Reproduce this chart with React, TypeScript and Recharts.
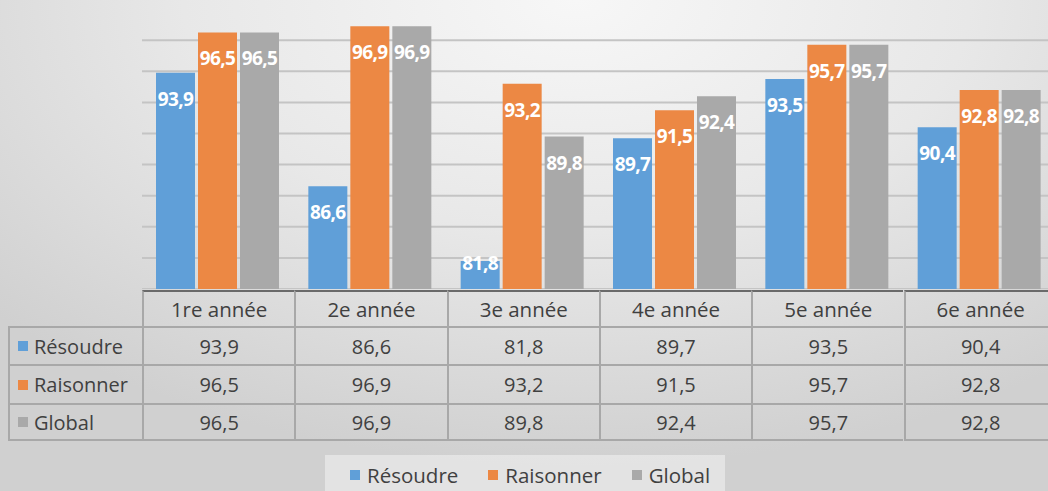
import { Bar, BarChart, CartesianGrid, LabelList, XAxis, YAxis } from "recharts";

const categories = ["1re année", "2e année", "3e année", "4e année", "5e année", "6e année"];
const resoudre = [93.9, 86.6, 81.8, 89.7, 93.5, 90.4];
const raisonner = [96.5, 96.9, 93.2, 91.5, 95.7, 92.8];
const global = [96.5, 96.9, 89.8, 92.4, 95.7, 92.8];
const yTicks = [80, 82, 84, 86, 88, 90, 92, 94, 96, 98, 100];

const series = [
  { key: "resoudre", name: "Résoudre", color: "#609fd8", values: resoudre },
  { key: "raisonner", name: "Raisonner", color: "#ec8844", values: raisonner },
  { key: "global", name: "Global", color: "#a9a9a9", values: global },
];

const data = categories.map((c, i) => ({
  name: c,
  resoudre: resoudre[i],
  raisonner: raisonner[i],
  global: global[i],
}));

const FONT = "'Open Sans', sans-serif";
const PLOT_LEFT = 142;
const COL_W = 152.3;
const CHART_H = 311;
const TEXT = "#404040";
const BORDER = "#a8a8a8";

const fmt = (v: number) => v.toFixed(1).replace(".", ",");

function BarLabel(props: any) {
  const { x, y, width, value } = props;
  // keep the label above the axis for short bars
  const cy = Math.min(y + 26, CHART_H - 26);
  return (
    <text
      x={x + width / 2}
      y={cy}
      textAnchor="middle"
      dominantBaseline="central"
      fill="#ffffff"
      fontFamily={FONT}
      fontWeight={700}
      fontSize={19}
      letterSpacing={-0.6}
    >
      {fmt(value)}
    </text>
  );
}

function DataTable() {
  const rowTops = [326, 364, 403];
  const rowH = [38, 39, 38];
  const cells: any[] = [];
  // header row
  categories.forEach((c, i) => {
    cells.push(
      <div
        key={"h" + i}
        style={{
          position: "absolute",
          left: PLOT_LEFT + i * COL_W,
          top: 290,
          width: COL_W,
          height: 36,
          borderLeft: `2px solid ${BORDER}`,
          borderTop: "2px solid #6a6a6a",
          boxSizing: "border-box",
          display: "flex",
          alignItems: "center",
          justifyContent: "center",
          fontSize: 20.5,
          color: TEXT,
        }}
      >
        {c}
      </div>
    );
  });
  series.forEach((s, r) => {
    cells.push(
      <div
        key={"l" + r}
        style={{
          position: "absolute",
          left: 8,
          top: rowTops[r],
          width: PLOT_LEFT - 8,
          height: rowH[r],
          borderLeft: `2px solid ${BORDER}`,
          borderTop: `2px solid ${BORDER}`,
          borderBottom: r === 2 ? `2px solid ${BORDER}` : undefined,
          boxSizing: "border-box",
          display: "flex",
          alignItems: "center",
          fontSize: 20,
          color: TEXT,
        }}
      >
        <span
          style={{
            display: "inline-block",
            width: 10,
            height: 10,
            background: s.color,
            marginLeft: 8,
            marginRight: 6,
          }}
        />
        {s.name}
      </div>
    );
    s.values.forEach((v, i) => {
      cells.push(
        <div
          key={"c" + r + "-" + i}
          style={{
            position: "absolute",
            left: PLOT_LEFT + i * COL_W,
            top: rowTops[r],
            width: COL_W,
            height: rowH[r],
            borderLeft: `2px solid ${BORDER}`,
            borderTop: `2px solid ${BORDER}`,
            borderBottom: r === 2 ? `2px solid ${BORDER}` : undefined,
            boxSizing: "border-box",
            display: "flex",
            alignItems: "center",
            justifyContent: "center",
            fontSize: 20,
            color: TEXT,
          }}
        >
          {fmt(v)}
        </div>
      );
    });
  });
  return <>{cells}</>;
}

function ChartLegend() {
  return (
    <div
      style={{
        position: "absolute",
        left: 325,
        top: 455,
        width: 400,
        height: 40,
        background: "rgba(240,240,240,0.6)",
        display: "flex",
        alignItems: "center",
        paddingLeft: 25,
        boxSizing: "border-box",
      }}
    >
      {series.map((s) => (
        <div key={s.key} style={{ display: "flex", alignItems: "center", marginRight: 30, color: TEXT, fontSize: 20.5 }}>
          <span style={{ display: "inline-block", width: 10, height: 10, background: s.color, marginRight: 7 }} />
          {s.name}
        </div>
      ))}
    </div>
  );
}

export default function App() {
  return (
    <div
      style={{
        position: "absolute",
        left: 0,
        top: 0,
        width: 1048,
        height: 491,
        overflow: "hidden",
        fontFamily: FONT,
        background: "radial-gradient(ellipse 75% 95% at 55% 0%, #f7f7f7 0%, #e8e8e8 50%, #d0d0d0 100%)",
      }}
    >
      <div style={{ position: "absolute", left: 0, top: -22 }}>
        <BarChart
          width={1056}
          height={CHART_H}
          data={data}
          margin={{ top: 0, right: 0, bottom: 0, left: PLOT_LEFT }}
          barCategoryGap={14}
          barGap={3}
        >
          <CartesianGrid horizontal vertical={false} stroke="#c4c4c4" strokeWidth={2} />
          <XAxis dataKey="name" hide />
          <YAxis hide domain={[80, 100]} ticks={yTicks} allowDataOverflow />
          {series.map((s) => (
            <Bar key={s.key} dataKey={s.key} name={s.name} fill={s.color} isAnimationActive={false}>
              <LabelList dataKey={s.key} content={BarLabel} />
            </Bar>
          ))}
        </BarChart>
      </div>
      <DataTable />
      <ChartLegend />
    </div>
  );
}
